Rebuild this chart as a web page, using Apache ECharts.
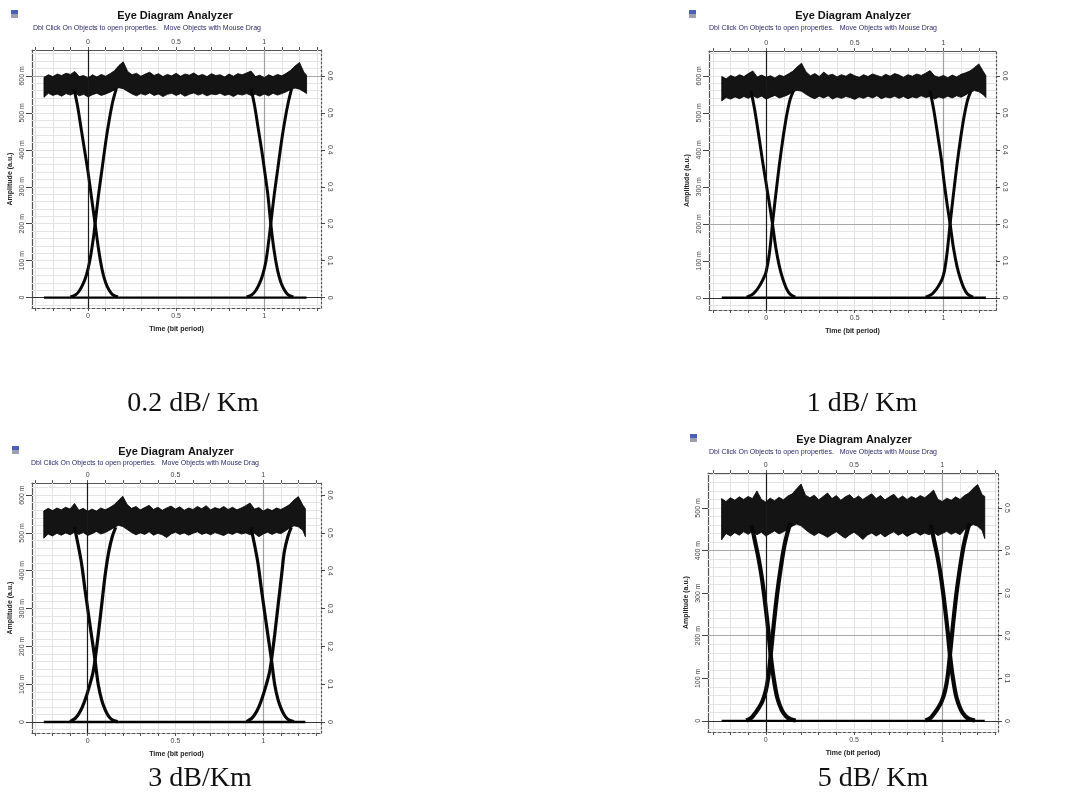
<!DOCTYPE html>
<html>
<head>
<meta charset="utf-8">
<title>Eye Diagram Analyzer</title>
<script src="https://cdn.jsdelivr.net/npm/echarts@6/dist/echarts.min.js"></script>
<style>
  html, body { margin: 0; padding: 0; background: #fff; }
  #main { width: 1065px; height: 798px; }
</style>
</head>
<body>
<div id="main"></div>
<script>
const timeGrid = [-0.25, -0.225, -0.2, -0.175, -0.15, -0.125, -0.1, -0.075, -0.05, -0.025,
  0, 0.025, 0.05, 0.075, 0.1, 0.125, 0.15, 0.175, 0.2, 0.225,
  0.25, 0.275, 0.3, 0.325, 0.35, 0.375, 0.4, 0.425, 0.45, 0.475,
  0.5, 0.525, 0.55, 0.575, 0.6, 0.625, 0.65, 0.675, 0.7, 0.725,
  0.75, 0.775, 0.8, 0.825, 0.85, 0.875, 0.9, 0.925, 0.95, 0.975,
  1, 1.025, 1.05, 1.075, 1.1, 1.125, 1.15, 1.175, 1.2, 1.225, 1.24];

const timeLabels = [0, 0.5, 1];
const timeTicks = [-0.3, -0.2, -0.1, 0, 0.1, 0.2, 0.3, 0.4, 0.5, 0.6, 0.7, 0.8, 0.9, 1, 1.1, 1.2, 1.3];
const ampLabels = [0, 0.1, 0.2, 0.3, 0.4, 0.5, 0.6];
const ampMinor = [-0.02, 0, 0.02, 0.04, 0.06, 0.08, 0.1, 0.12, 0.14, 0.16, 0.18, 0.2, 0.22, 0.24, 0.26, 0.28,
  0.3, 0.32, 0.34, 0.36, 0.38, 0.4, 0.42, 0.44, 0.46, 0.48, 0.5, 0.52, 0.54, 0.56, 0.58, 0.6, 0.62, 0.64, 0.66];
const zeroLevel = [[-0.25, 0], [1.24, 0]];
const captions = ['0.2 dB/ Km', '1 dB/ Km', '3 dB/Km', '5 dB/ Km'];

// 0.2 dB/Km
const p1Upper = [0.596, 0.603, 0.598, 0.605, 0.601, 0.607, 0.604, 0.612, 0.598, 0.601,
  0.594, 0.603, 0.597, 0.604, 0.599, 0.606, 0.614, 0.628, 0.638, 0.612,
  0.603, 0.607, 0.599, 0.605, 0.61, 0.601, 0.606, 0.598, 0.604, 0.6,
  0.607, 0.599, 0.605, 0.602, 0.608, 0.6, 0.604, 0.598, 0.606, 0.601,
  0.603, 0.597, 0.605, 0.599, 0.606, 0.603, 0.608, 0.613, 0.598, 0.602,
  0.595, 0.603, 0.598, 0.604, 0.6, 0.607, 0.615, 0.627, 0.636, 0.61, 0.602];
const p1Lower = [0.542, 0.553, 0.547, 0.551, 0.545, 0.552, 0.548, 0.554, 0.546, 0.55,
  0.543, 0.549, 0.553, 0.547, 0.551, 0.556, 0.562, 0.568, 0.565, 0.558,
  0.551, 0.546, 0.552, 0.548, 0.554, 0.547, 0.551, 0.544, 0.55, 0.553,
  0.547, 0.552, 0.545, 0.55, 0.554, 0.548, 0.552, 0.546, 0.551, 0.549,
  0.553, 0.547, 0.55, 0.544, 0.551, 0.548, 0.552, 0.547, 0.55, 0.545,
  0.551, 0.546, 0.553, 0.548, 0.552, 0.557, 0.563, 0.567, 0.564, 0.557, 0.552];
const p1Fall0 = [[-0.08, 0.565], [-0.06, 0.52], [-0.04, 0.46], [-0.02, 0.4], [0, 0.34], [0.02, 0.27], [0.04, 0.2],
  [0.06, 0.13], [0.08, 0.075], [0.1, 0.04], [0.12, 0.02], [0.14, 0.008], [0.17, 0.002]];
const p1Rise0 = [[-0.1, 0.002], [-0.07, 0.008], [-0.05, 0.018], [-0.03, 0.035], [-0.01, 0.06], [0.01, 0.1], [0.03, 0.16],
  [0.04, 0.2], [0.06, 0.28], [0.08, 0.35], [0.1, 0.42], [0.12, 0.48], [0.14, 0.53], [0.16, 0.565]];
const p1Fall1 = [[0.925, 0.565], [0.945, 0.52], [0.965, 0.46], [0.985, 0.4], [1.0, 0.35], [1.02, 0.28], [1.037, 0.2],
  [1.055, 0.13], [1.075, 0.075], [1.095, 0.04], [1.115, 0.02], [1.135, 0.008], [1.165, 0.002]];
const p1Rise1 = [[0.9, 0.002], [0.93, 0.008], [0.95, 0.018], [0.97, 0.035], [0.99, 0.06], [1.01, 0.1], [1.027, 0.16],
  [1.037, 0.2], [1.057, 0.28], [1.077, 0.35], [1.097, 0.42], [1.117, 0.48], [1.137, 0.53], [1.155, 0.565]];

// 1 dB/Km
const p2Upper = [0.598, 0.592, 0.601, 0.596, 0.603, 0.598, 0.606, 0.613, 0.597, 0.602,
  0.596, 0.6, 0.594, 0.602, 0.598, 0.605, 0.612, 0.624, 0.634, 0.611,
  0.6, 0.606, 0.598, 0.61, 0.601, 0.604, 0.597, 0.603, 0.599, 0.606,
  0.6, 0.596, 0.603, 0.598, 0.605, 0.601, 0.597, 0.604, 0.599, 0.606,
  0.602, 0.596, 0.603, 0.599, 0.605, 0.601, 0.607, 0.614, 0.6, 0.596,
  0.601, 0.595, 0.602, 0.597, 0.604, 0.608, 0.613, 0.622, 0.632, 0.612, 0.6];
const p2Lower = [0.532, 0.541, 0.537, 0.543, 0.538, 0.544, 0.539, 0.546, 0.54, 0.545,
  0.537, 0.542, 0.547, 0.54, 0.544, 0.549, 0.556, 0.561, 0.558, 0.55,
  0.543, 0.538, 0.545, 0.54, 0.546, 0.537, 0.543, 0.539, 0.544, 0.541,
  0.536, 0.543, 0.539, 0.545, 0.54, 0.546, 0.538, 0.543, 0.54, 0.545,
  0.539, 0.544, 0.538, 0.543, 0.54, 0.546, 0.541, 0.544, 0.537, 0.543,
  0.539, 0.545, 0.54, 0.546, 0.542, 0.548, 0.555, 0.56, 0.557, 0.549, 0.541];
const p2Fall0 = [[-0.085, 0.56], [-0.065, 0.51], [-0.045, 0.45], [-0.02, 0.37], [0, 0.31], [0.02, 0.25], [0.036, 0.2],
  [0.055, 0.135], [0.075, 0.085], [0.095, 0.05], [0.115, 0.025], [0.135, 0.01], [0.165, 0.002]];
const p2Rise0 = [[-0.11, 0.002], [-0.08, 0.008], [-0.06, 0.017], [-0.04, 0.03], [-0.02, 0.047], [0, 0.07], [0.02, 0.125],
  [0.036, 0.2], [0.055, 0.28], [0.075, 0.36], [0.095, 0.43], [0.115, 0.49], [0.135, 0.535], [0.155, 0.56]];
const p2Fall1 = [[0.925, 0.56], [0.945, 0.51], [0.965, 0.45], [0.99, 0.37], [1.005, 0.31], [1.022, 0.25], [1.038, 0.2],
  [1.057, 0.135], [1.077, 0.085], [1.097, 0.05], [1.117, 0.025], [1.137, 0.01], [1.167, 0.002]];
const p2Rise1 = [[0.9, 0.002], [0.93, 0.008], [0.95, 0.017], [0.97, 0.03], [0.99, 0.047], [1.005, 0.07], [1.022, 0.125],
  [1.038, 0.2], [1.057, 0.28], [1.077, 0.36], [1.097, 0.43], [1.117, 0.49], [1.137, 0.535], [1.157, 0.56]];

// 3 dB/Km
const p3Upper = [0.558, 0.565, 0.559, 0.566, 0.561, 0.568, 0.563, 0.578, 0.56, 0.565,
  0.557, 0.563, 0.558, 0.566, 0.561, 0.567, 0.574, 0.586, 0.597, 0.575,
  0.565, 0.57, 0.561, 0.567, 0.573, 0.562, 0.568, 0.56, 0.566, 0.571,
  0.563, 0.569, 0.56, 0.566, 0.562, 0.57, 0.564, 0.572, 0.561, 0.567,
  0.563, 0.57, 0.562, 0.568, 0.561, 0.566, 0.572, 0.579, 0.563, 0.567,
  0.558, 0.564, 0.559, 0.566, 0.562, 0.568, 0.575, 0.587, 0.596, 0.574, 0.564];
const p3Lower = [0.486, 0.497, 0.492, 0.499, 0.494, 0.5, 0.495, 0.502, 0.496, 0.501,
  0.493, 0.498, 0.504, 0.497, 0.501, 0.507, 0.514, 0.52, 0.517, 0.509,
  0.501, 0.495, 0.5, 0.496, 0.503, 0.494, 0.499, 0.495, 0.488, 0.497,
  0.502, 0.496, 0.5, 0.494, 0.499, 0.503, 0.496, 0.5, 0.495, 0.501,
  0.497, 0.493, 0.5, 0.496, 0.502, 0.497, 0.5, 0.495, 0.499, 0.49,
  0.497, 0.502, 0.496, 0.501, 0.498, 0.505, 0.513, 0.519, 0.516, 0.507, 0.49];
const p3Fall0 = [[-0.075, 0.515], [-0.055, 0.47], [-0.035, 0.42], [-0.015, 0.35], [0, 0.3], [0.02, 0.235], [0.042, 0.164],
  [0.06, 0.1], [0.08, 0.058], [0.1, 0.032], [0.12, 0.015], [0.14, 0.006], [0.17, 0.001]];
const p3Rise0 = [[-0.1, 0.001], [-0.07, 0.01], [-0.05, 0.022], [-0.03, 0.04], [-0.01, 0.065], [0.01, 0.095], [0.03, 0.13],
  [0.042, 0.164], [0.06, 0.23], [0.08, 0.31], [0.1, 0.39], [0.12, 0.45], [0.14, 0.49], [0.16, 0.515]];
const p3Fall1 = [[0.93, 0.515], [0.95, 0.47], [0.97, 0.42], [0.99, 0.35], [1.005, 0.3], [1.025, 0.235], [1.047, 0.164],
  [1.065, 0.1], [1.085, 0.058], [1.105, 0.032], [1.125, 0.015], [1.145, 0.006], [1.175, 0.001]];
const p3Rise1 = [[0.905, 0.001], [0.935, 0.01], [0.955, 0.022], [0.975, 0.04], [0.995, 0.065], [1.015, 0.095], [1.035, 0.13],
  [1.047, 0.164], [1.065, 0.23], [1.085, 0.31], [1.105, 0.39], [1.12, 0.45], [1.14, 0.49], [1.16, 0.515]];

// 5 dB/Km
const p4Upper = [0.522, 0.515, 0.524, 0.518, 0.526, 0.52, 0.527, 0.522, 0.54, 0.52,
  0.514, 0.523, 0.517, 0.525, 0.519, 0.528, 0.533, 0.545, 0.556, 0.53,
  0.524, 0.53, 0.519, 0.527, 0.535, 0.522, 0.529, 0.518, 0.526, 0.531,
  0.521, 0.528, 0.52, 0.527, 0.533, 0.522, 0.529, 0.519, 0.526, 0.532,
  0.521, 0.528, 0.52, 0.527, 0.522, 0.529, 0.524, 0.532, 0.542, 0.52,
  0.515, 0.523, 0.518, 0.526, 0.52, 0.529, 0.535, 0.546, 0.555, 0.531, 0.527];
const p4Lower = [0.425, 0.44, 0.434, 0.442, 0.436, 0.444, 0.438, 0.445, 0.437, 0.443,
  0.434, 0.44, 0.446, 0.439, 0.444, 0.45, 0.457, 0.462, 0.458, 0.449,
  0.441, 0.435, 0.442, 0.437, 0.431, 0.438, 0.444, 0.436, 0.429, 0.437,
  0.443, 0.435, 0.426, 0.436, 0.441, 0.434, 0.44, 0.432, 0.439, 0.444,
  0.436, 0.441, 0.433, 0.439, 0.443, 0.436, 0.441, 0.437, 0.443, 0.435,
  0.44, 0.445, 0.438, 0.443, 0.437, 0.449, 0.456, 0.461, 0.457, 0.447, 0.428];
const p4Fall0 = [[-0.08, 0.46], [-0.06, 0.42], [-0.04, 0.38], [-0.02, 0.33], [0, 0.265], [0.015, 0.21], [0.028, 0.155],
  [0.045, 0.1], [0.065, 0.055], [0.09, 0.026], [0.115, 0.011], [0.14, 0.004], [0.17, 0.001]];
const p4Rise0 = [[-0.11, 0.001], [-0.08, 0.008], [-0.06, 0.018], [-0.04, 0.03], [-0.02, 0.045], [0, 0.07], [0.015, 0.105],
  [0.028, 0.155], [0.045, 0.225], [0.065, 0.3], [0.085, 0.36], [0.105, 0.41], [0.125, 0.445], [0.14, 0.465]];
const p4Fall1 = [[0.935, 0.46], [0.955, 0.42], [0.975, 0.38], [0.995, 0.33], [1.015, 0.265], [1.03, 0.21], [1.043, 0.155],
  [1.06, 0.1], [1.08, 0.055], [1.105, 0.026], [1.13, 0.011], [1.155, 0.004], [1.185, 0.001]];
const p4Rise1 = [[0.905, 0.001], [0.935, 0.008], [0.955, 0.018], [0.975, 0.03], [0.995, 0.045], [1.015, 0.07], [1.03, 0.105],
  [1.043, 0.155], [1.06, 0.225], [1.08, 0.3], [1.1, 0.36], [1.12, 0.41], [1.14, 0.445], [1.155, 0.465]];

// where each analyzer window sits on the page
const panels = [
  { left: 32, top: 50, width: 289, height: 258, xMin: -0.318, xMax: 1.322, yMin: -0.028, yMax: 0.670,
    titleX: 175, titleY: 16, subX: 147, subY: 28, capX: 193, capY: 404, darkY: [0.6],
    upper: p1Upper, lower: p1Lower, edges: [p1Fall0, p1Rise0, p1Fall1, p1Rise1], edgeWidth: 3 },
  { left: 709, top: 51, width: 287, height: 259, xMin: -0.322, xMax: 1.297, yMin: -0.033, yMax: 0.667,
    titleX: 853, titleY: 16, subX: 823, subY: 28, capX: 862, capY: 404, darkY: [0.2],
    upper: p2Upper, lower: p2Lower, edges: [p2Fall0, p2Rise0, p2Fall1, p2Rise1], edgeWidth: 3 },
  { left: 32, top: 483, width: 289, height: 250, xMin: -0.317, xMax: 1.329, yMin: -0.029, yMax: 0.632,
    titleX: 176, titleY: 452, subX: 145, subY: 463, capX: 200, capY: 779, darkY: [],
    upper: p3Upper, lower: p3Lower, edges: [p3Fall0, p3Rise0, p3Fall1, p3Rise1], edgeWidth: 3.2 },
  { left: 708, top: 473, width: 290, height: 259, xMin: -0.327, xMax: 1.315, yMin: -0.026, yMax: 0.582,
    titleX: 854, titleY: 440, subX: 823, subY: 452, capX: 873, capY: 779, darkY: [0.2, 0.4],
    upper: p4Upper, lower: p4Lower, edges: [p4Fall0, p4Rise0, p4Fall1, p4Rise1], edgeWidth: 4.2 }
];

const labelFont = { fontSize: 7, color: '#444', fontFamily: 'Liberation Sans' };

const chart = echarts.init(document.getElementById('main'), null, { renderer: 'canvas' });

const grids = [], xAxes = [], yAxes = [], series = [], graphics = [];

panels.forEach(function (p, i) {
  grids.push({ left: p.left, top: p.top, width: p.width, height: p.height, containLabel: false });

  const inRange = function (v) { return v >= p.yMin && v <= p.yMax; };
  const yLab = ampLabels.filter(inRange);
  const yMin = ampMinor.filter(inRange);

  const xBase = {
    type: 'value', gridIndex: i, min: p.xMin, max: p.xMax,
    splitLine: { show: false },
    axisTick: { customValues: timeTicks, length: 3, lineStyle: { color: '#555' } },
    axisLabel: Object.assign({ customValues: timeLabels, formatter: function (v) { return String(v); } }, labelFont)
  };
  xAxes.push(Object.assign({}, xBase, {
    position: 'bottom',
    axisLine: { onZero: false, lineStyle: { color: '#555', type: [3, 2], width: 1.2 } },
    axisLabel: Object.assign({}, xBase.axisLabel, { margin: 5 }),
    name: 'Time (bit period)', nameLocation: 'middle', nameGap: 18,
    nameTextStyle: { fontSize: 7, fontWeight: 'bold', color: '#222', fontFamily: 'Liberation Sans' }
  }));
  xAxes.push(Object.assign({}, xBase, {
    position: 'top',
    axisLine: { onZero: false, lineStyle: { color: '#555', width: 1.2 } },
    axisLabel: Object.assign({}, xBase.axisLabel, { margin: 4 })
  }));

  const yBase = { type: 'value', gridIndex: i, min: p.yMin, max: p.yMax, splitLine: { show: false } };
  yAxes.push(Object.assign({}, yBase, {
    position: 'left',
    axisLine: { show: true, onZero: false, lineStyle: { color: '#555', width: 1.2 } },
    axisTick: { customValues: yLab, length: 6, lineStyle: { color: '#444' } },
    axisLabel: Object.assign({ customValues: yLab, rotate: 90, margin: 6,
      formatter: function (v) { return v === 0 ? '0' : Math.round(v * 1000) + ' m'; } }, labelFont),
    name: 'Amplitude (a.u.)', nameLocation: 'middle', nameGap: 18, nameRotate: 90,
    nameTextStyle: { fontSize: 7, fontWeight: 'bold', color: '#222', fontFamily: 'Liberation Sans' }
  }));
  yAxes.push(Object.assign({}, yBase, {
    position: 'left',
    axisLine: { show: false },
    axisTick: { customValues: yMin, length: 3, lineStyle: { color: '#555' } },
    axisLabel: { show: false }
  }));
  yAxes.push(Object.assign({}, yBase, {
    position: 'right',
    axisLine: { show: true, onZero: false, lineStyle: { color: '#555', type: [2, 2], width: 1.2 } },
    axisTick: { customValues: yLab, length: 4, lineStyle: { color: '#444' } },
    axisLabel: Object.assign({ customValues: yLab, rotate: -90, margin: 5,
      formatter: function (v) { return v === 0 ? '0' : v.toFixed(1); } }, labelFont)
  }));
  yAxes.push(Object.assign({}, yBase, {
    position: 'right',
    axisLine: { show: false },
    axisTick: { customValues: yMin, length: 2, lineStyle: { color: '#555' } },
    axisLabel: { show: false }
  }));

  const xi = i * 2, yi = i * 4;

  // light background grid, darker guide lines (kept under the traces)
  const lines = [];
  timeTicks.forEach(function (v) {
    if (v > p.xMin && v < p.xMax && v !== 0 && v !== 1) {
      lines.push({ xAxis: v, lineStyle: { color: '#e2e2e2', width: 1, type: 'solid' } });
    }
  });
  yMin.forEach(function (v) {
    if (v !== 0 && p.darkY.indexOf(v) < 0) {
      lines.push({ yAxis: v, lineStyle: { color: '#e4e4e4', width: 1, type: 'solid' } });
    }
  });
  p.darkY.forEach(function (v) {
    lines.push({ yAxis: v, lineStyle: { color: '#a8a8a8', width: 1, type: 'solid' } });
  });
  lines.push({ xAxis: 1, lineStyle: { color: '#a0a0a0', width: 1.2, type: 'solid' } });
  lines.push({ yAxis: 0, lineStyle: { color: '#333', width: 1, type: 'solid' } });
  series.push({
    type: 'line', xAxisIndex: xi, yAxisIndex: yi, data: [], z: 1, silent: true,
    markLine: { z: 1, silent: true, symbol: 'none', label: { show: false }, animation: false, data: lines }
  });

  // noisy "one" level drawn as the envelope of all the overlaid traces
  series.push({
    type: 'custom', xAxisIndex: xi, yAxisIndex: yi, coordinateSystem: 'cartesian2d',
    data: [[0, 0]], z: 3, silent: true, animation: false,
    renderItem: function (params, api) {
      const pts = [];
      timeGrid.forEach(function (t, k) { pts.push(api.coord([t, p.upper[k]])); });
      for (let k = timeGrid.length - 1; k >= 0; k--) pts.push(api.coord([timeGrid[k], p.lower[k]]));
      return { type: 'polygon', shape: { points: pts }, style: { fill: '#141414', stroke: '#000', lineWidth: 0.8 } };
    }
  });

  p.edges.forEach(function (edge) {
    series.push({
      type: 'line', xAxisIndex: xi, yAxisIndex: yi, data: edge, smooth: 0.3,
      showSymbol: false, silent: true, animation: false, z: 4,
      lineStyle: { color: '#080808', width: p.edgeWidth }
    });
  });

  series.push({
    type: 'line', xAxisIndex: xi, yAxisIndex: yi, data: zeroLevel,
    showSymbol: false, silent: true, animation: false, z: 4,
    lineStyle: { color: '#000', width: 2.4 }
  });

  // vertical 0 marker drawn on top, as in the analyzer
  series.push({
    type: 'line', xAxisIndex: xi, yAxisIndex: yi, data: [], z: 5, silent: true,
    markLine: { z: 5, silent: true, symbol: 'none', label: { show: false }, animation: false,
      data: [{ xAxis: 0, lineStyle: { color: '#1a1a1a', width: 1.2, type: 'solid' } }] }
  });

  // window header
  graphics.push({ type: 'rect', left: p.titleX - 164, top: p.titleY - 6, shape: { width: 7, height: 4 },
    style: { fill: '#4a5fb8' } });
  graphics.push({ type: 'rect', left: p.titleX - 164, top: p.titleY - 2, shape: { width: 7, height: 4 },
    style: { fill: '#9aa0b0' } });
  graphics.push({ type: 'text', x: p.titleX, y: p.titleY, style: {
    text: 'Eye Diagram Analyzer', align: 'center', verticalAlign: 'middle',
    font: 'bold 11px "Liberation Sans"', fill: '#111' } });
  graphics.push({ type: 'text', x: p.subX, y: p.subY, style: {
    text: 'Dbl Click On Objects to open properties.   Move Objects with Mouse Drag', align: 'center', verticalAlign: 'middle',
    font: '7px "Liberation Sans"', fill: '#2a2a6a' } });
  graphics.push({ type: 'text', x: p.capX, y: p.capY, style: {
    text: captions[i], align: 'center', verticalAlign: 'middle',
    font: '28px "Liberation Serif"', fill: '#111' } });
});

chart.setOption({
  animation: false,
  backgroundColor: '#fff',
  grid: grids,
  xAxis: xAxes,
  yAxis: yAxes,
  series: series,
  graphic: graphics
});
</script>
</body>
</html>
